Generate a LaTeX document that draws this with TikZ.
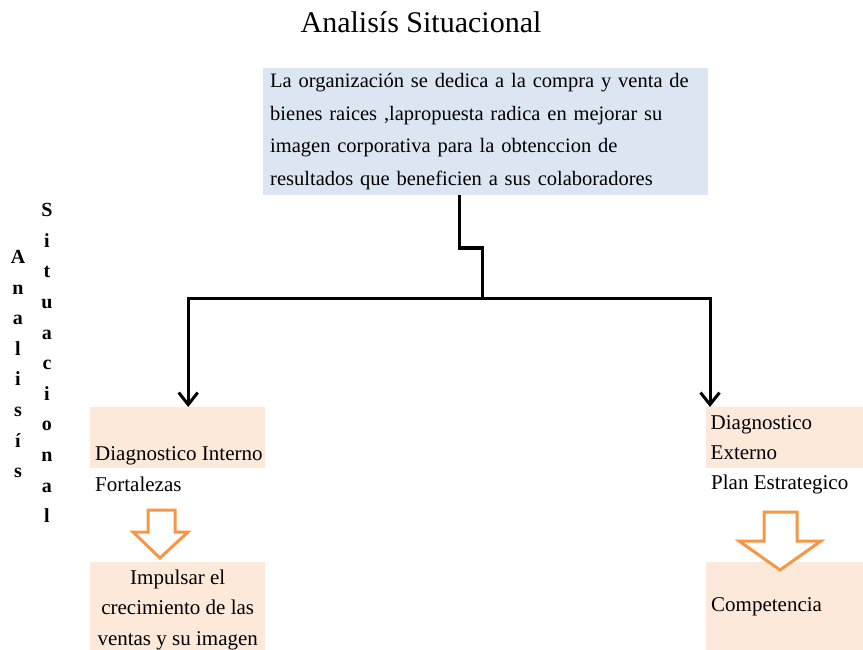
\documentclass[tikz,border=0pt]{standalone}
\usepackage{fontspec}
\setmainfont{Liberation Serif}
\usepackage{xcolor}
\usetikzlibrary{arrows.meta, positioning}
\definecolor{boxblue}{HTML}{DCE6F2}
\definecolor{boxpeach}{HTML}{FDE9D9}
\definecolor{arroworange}{HTML}{F79646}
\tikzstyle{bluebox}=[rectangle, fill=boxblue, draw=none, anchor=north west, inner sep=0pt]
\tikzstyle{peachbox}=[rectangle, fill=boxpeach, draw=none, anchor=north west, inner sep=0pt]
\tikzstyle{txt}=[inner sep=0pt, font=\fontsize{21}{30.5}\selectfont]
\tikzstyle{vlet}=[inner sep=0pt, align=center, font=\fontsize{20}{30.6}\selectfont\bfseries]
\tikzstyle{conn}=[line width=3pt, -{Straight Barb[length=12pt, width=19pt]}]
\tikzstyle{hollow}=[draw=arroworange, line width=3pt, fill=white, line join=miter]

\begin{document}
\begin{tikzpicture}[x=1pt, y=-1pt]
\useasboundingbox (0,0) rectangle (863,650);

% title
\node[inner sep=0pt, font=\fontsize{30}{36}\selectfont] (title) at (421,22) {Analisís Situacional};

% vertical labels
\node[vlet] (ana) at (18,364) {A\\n\\a\\l\\i\\s\\í\\s};
\node[vlet] (sit) at (47,363) {S\\i\\t\\u\\a\\c\\i\\o\\n\\a\\l};

% top box
\node[bluebox, minimum width=445pt, minimum height=127pt, text width=431pt,
      inner xsep=7pt, align=left, font=\fontsize{20.5}{32.5}\selectfont] (orgbox) at (263,68)
  {La organización se dedica a la compra y venta de\\
   bienes raices ,lapropuesta radica en mejorar su\\
   imagen corporativa para la obtenccion de\\
   resultados que beneficien a sus colaboradores};

% diagnostico boxes
\node[peachbox, minimum width=175pt, minimum height=61pt] (intbox) at (90,407) {};
\node[txt, anchor=base west] (inttxt) at ([xshift=5pt, yshift=8pt]intbox.south west) {Diagnostico Interno};
\node[txt, anchor=base west] (fortxt) at ([xshift=5pt, yshift=-23pt]intbox.south west) {Fortalezas};

\node[peachbox, minimum width=157pt, minimum height=61pt, text width=152pt,
      inner xsep=0pt, align=left, txt] (extbox) at (706,407) {\hspace*{2pt}Diagnostico\\\hspace*{2pt}Externo};
\node[txt, anchor=base west] (plantxt) at ([xshift=5pt, yshift=-21pt]extbox.south west) {Plan Estrategico};

% result boxes
\node[peachbox, minimum width=175pt, minimum height=95pt, align=center, txt] (impbox) at (90,562)
  {Impulsar el\\crecimiento de las\\ventas y su imagen};
\node[peachbox, minimum width=157pt, minimum height=95pt] (compbox) at (706,562) {};
\node[txt, anchor=west] (comptxt) at ([xshift=5pt, yshift=-45pt]compbox.north west) {Competencia};

% connectors
\coordinate (bendA) at (459,248);
\coordinate (bendB) at (482,248);
\coordinate (split) at (482,298);
\draw[line width=3pt] (orgbox.south -| bendA) -- (bendA) -- (bendB) -- (split);
\draw[conn] (split) -| ([xshift=10.5pt]intbox.north);
\draw[conn] (split) -| ([xshift=4pt]extbox.north west);

% block arrows
\draw[hollow] (148,510) -- (175,510) -- (175,532) -- (188,532) -- (160,558)
  -- (133,532) -- (148,532) -- cycle;
\draw[hollow] (764,512) -- (797,512) -- (797,541) -- (821,541) -- (780,570)
  -- (739,541) -- (764,541) -- cycle;

\end{tikzpicture}
\end{document}
